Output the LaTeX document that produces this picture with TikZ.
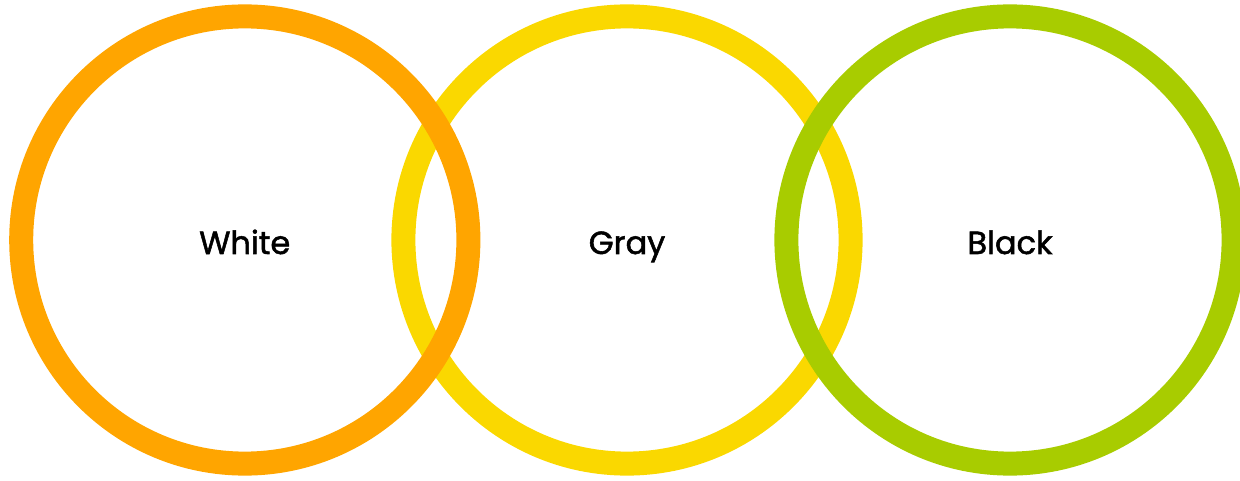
\documentclass[tikz,border=0pt]{standalone}
\usepackage{fontspec}
\setmainfont{Poppins}
\newfontfamily\lblfont{Poppins}[FakeBold=1.6]
\definecolor{cOrange}{RGB}{255,165,0}
\definecolor{cYellow}{RGB}{250,216,0}
\definecolor{cGreen}{RGB}{168,204,0}
\tikzset{
  ring/.style={line width=24pt},
  lbl/.style={font=\lblfont\fontsize{32}{38}\selectfont, text=black, anchor=base, inner sep=0pt}
}
\begin{document}
\begin{tikzpicture}[x=1pt,y=1pt]
\useasboundingbox (0,0) rectangle (1240,480);
\clip (0,0) rectangle (1240,480);
\draw[ring, cYellow] (627,240) circle (223.6);
\draw[ring, cOrange] (244.8,240) circle (223.6);
\draw[ring, cGreen] (1010,240) circle (223.6);
\node[lbl] (white) at (244.8,226) {White};
\node[lbl] (gray) at (627,226) {Gray};
\node[lbl] (black) at (1010,226) {Black};
\end{tikzpicture}
\end{document}
